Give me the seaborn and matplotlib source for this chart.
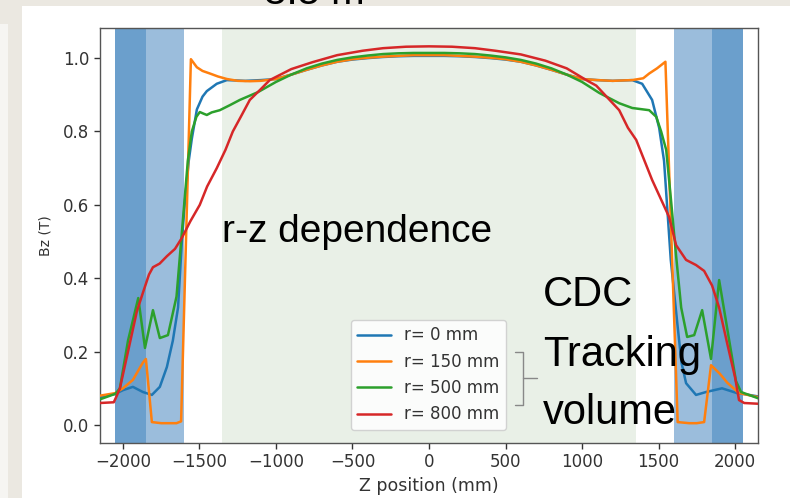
import numpy as np
import pandas as pd
import matplotlib
matplotlib.use("Agg")
import matplotlib.pyplot as plt
from matplotlib.patches import Rectangle
from matplotlib.lines import Line2D
import seaborn as sns

# ---------------- data ----------------
labels = ["r= 0 mm", "r= 150 mm", "r= 500 mm", "r= 800 mm"]

z_r0 = [-2150, -2050, -2000, -1935, -1870, -1811, -1759, -1713, -1674, -1640, -1615, -1595,
        -1570, -1550, -1517, -1480, -1452, -1387, -1321, -1200, -1100, -1000, -900, -800,
        -700, -600, -500, -400, -300, -200, -100, 0, 100, 200, 300, 400, 500, 600, 700, 800,
        900, 1000, 1100, 1200, 1328, 1393, 1458, 1504, 1536, 1580, 1622, 1650, 1680, 1745,
        1811, 1915, 2013, 2050, 2150]
b_r0 = [0.075, 0.085, 0.095, 0.104, 0.090, 0.082, 0.104, 0.158, 0.230, 0.320, 0.500, 0.610,
        0.720, 0.780, 0.860, 0.895, 0.910, 0.930, 0.940, 0.938, 0.940, 0.943, 0.955, 0.968,
        0.980, 0.990, 0.996, 1.000, 1.003, 1.005, 1.006, 1.006, 1.006, 1.005, 1.003, 1.000,
        0.996, 0.990, 0.980, 0.968, 0.955, 0.943, 0.940, 0.938, 0.940, 0.930, 0.886, 0.810,
        0.720, 0.450, 0.280, 0.170, 0.114, 0.082, 0.090, 0.100, 0.087, 0.085, 0.078]

z_r150 = [-2150, -2050, -2000, -1935, -1870, -1850, -1811, -1750, -1700, -1650, -1620, -1556,
          -1517, -1480, -1432, -1380, -1321, -1250, -1171, -1100, -1000, -900, -800, -700,
          -600, -500, -400, -300, -200, -100, 0, 100, 200, 300, 400, 500, 600, 700, 800, 900,
          1000, 1100, 1200, 1328, 1400, 1439, 1490, 1545, 1625, 1700, 1750, 1798, 1843, 1900,
          1950, 2026, 2050, 2150]
b_r150 = [0.080, 0.087, 0.100, 0.123, 0.170, 0.180, 0.008, 0.005, 0.005, 0.005, 0.010, 0.997,
          0.975, 0.965, 0.958, 0.950, 0.943, 0.938, 0.937, 0.938, 0.943, 0.955, 0.968, 0.980,
          0.990, 0.997, 1.001, 1.004, 1.006, 1.008, 1.008, 1.008, 1.006, 1.004, 1.001, 0.997,
          0.990, 0.980, 0.968, 0.955, 0.943, 0.940, 0.938, 0.940, 0.945, 0.958, 0.972, 0.990,
          0.008, 0.005, 0.005, 0.008, 0.163, 0.140, 0.115, 0.087, 0.085, 0.076]

z_r500 = [-2150, -2050, -2020, -1967, -1900, -1856, -1804, -1759, -1706, -1650, -1628, -1600,
          -1576, -1550, -1520, -1498, -1470, -1452, -1420, -1367, -1300, -1236, -1119, -1000,
          -900, -800, -700, -600, -500, -400, -300, -200, -100, 0, 100, 200, 300, 400, 500,
          600, 700, 800, 900, 1000, 1113, 1243, 1328, 1439, 1485, 1517, 1550, 1580, 1615,
          1648, 1687, 1733, 1785, 1843, 1896, 1950, 2006, 2039, 2150]
b_r500 = [0.070, 0.085, 0.100, 0.230, 0.346, 0.210, 0.313, 0.237, 0.245, 0.350, 0.460, 0.600,
          0.720, 0.800, 0.840, 0.853, 0.848, 0.845, 0.852, 0.858, 0.872, 0.886, 0.907, 0.935,
          0.955, 0.972, 0.985, 0.995, 1.002, 1.007, 1.011, 1.013, 1.014, 1.014, 1.014, 1.013,
          1.011, 1.007, 1.002, 0.995, 0.985, 0.972, 0.955, 0.935, 0.905, 0.877, 0.864, 0.858,
          0.840, 0.800, 0.750, 0.620, 0.460, 0.320, 0.240, 0.245, 0.313, 0.180, 0.395, 0.260,
          0.120, 0.090, 0.073]

z_r800 = [-2150, -2060, -2040, -2020, -1967, -1909, -1870, -1830, -1804, -1760, -1713, -1660,
          -1615, -1560, -1498, -1450, -1387, -1330, -1282, -1230, -1171, -1100, -1041, -900,
          -760, -600, -434, -300, -150, 0, 150, 300, 434, 600, 760, 900, 1028, 1093, 1243,
          1300, 1354, 1458, 1569, 1615, 1680, 1745, 1798, 1850, 1896, 1950, 2000, 2026, 2060,
          2150]
b_r800 = [0.060, 0.062, 0.080, 0.100, 0.200, 0.310, 0.360, 0.410, 0.430, 0.440, 0.460, 0.480,
          0.510, 0.555, 0.600, 0.650, 0.700, 0.750, 0.800, 0.840, 0.886, 0.915, 0.940, 0.970,
          0.989, 1.008, 1.020, 1.027, 1.031, 1.032, 1.031, 1.027, 1.020, 1.010, 0.993, 0.972,
          0.940, 0.925, 0.858, 0.810, 0.777, 0.668, 0.567, 0.490, 0.450, 0.436, 0.420, 0.380,
          0.320, 0.220, 0.130, 0.068, 0.060, 0.058]

dark_band = [(-2050, -1850), (1850, 2050)]
light_band = [(-1850, -1600), (1600, 1850)]
cdc_band = (-1350, 1350)

x_ticks = [-2000, -1500, -1000, -500, 0, 500, 1000, 1500, 2000]
y_ticks = [0.0, 0.2, 0.4, 0.6, 0.8, 1.0]

# ---------------- build long-form table ----------------
frames = []
for lab, zz, bb in zip(labels, [z_r0, z_r150, z_r500, z_r800], [b_r0, b_r150, b_r500, b_r800]):
    frames.append(pd.DataFrame({"z": zz, "Bz": bb, "series": lab}))
df = pd.concat(frames, ignore_index=True)

# ---------------- figure ----------------
sns.set_theme(style="ticks")
plt.rcParams["font.family"] = ["DejaVu Sans"]

W, H = 790, 498
fig = plt.figure(figsize=(W / 100, H / 100), dpi=100)
fig.patch.set_facecolor("white")

beige = "#ebe8e1"
def rect_px(x0, y0, x1, y1, color):
    fig.add_artist(Rectangle((x0 / W, 1 - y1 / H), (x1 - x0) / W, (y1 - y0) / H,
                             transform=fig.transFigure, facecolor=color, edgecolor="none", zorder=-10))

rect_px(0, 0, W, 6, beige)
rect_px(0, 6, 22, 24, beige)
rect_px(8, 24, 22, H, beige)
rect_px(0, 24, 8, H, "#f6f5f2")

ax = fig.add_axes([100 / W, 1 - 443 / H, (758 - 100) / W, (443 - 28) / H])
ax.set_facecolor("white")

for a, b in dark_band:
    ax.axvspan(a, b, color="#6b9fcc", lw=0, zorder=0)
for a, b in light_band:
    ax.axvspan(a, b, color="#9bbddc", lw=0, zorder=0)
ax.axvspan(cdc_band[0], cdc_band[1], color="#e9f0e7", lw=0, zorder=0)

palette = ["#1f77b4", "#ff7f0e", "#2ca02c", "#d62728"]
sns.lineplot(data=df, x="z", y="Bz", hue="series", palette=palette, sort=False,
             estimator=None, lw=1.8, ax=ax, zorder=3)

ax.set_xlim(-2150, 2150)
ax.set_ylim(-0.049, 1.082)
ax.set_xticks(x_ticks)
ax.set_yticks(y_ticks)
ax.set_yticklabels([f"{v:.1f}" for v in y_ticks])
ax.tick_params(axis="both", labelsize=12, colors="#333333", length=4, width=1)
ax.set_xlabel("Z position (mm)", fontsize=12.5, color="#333333", labelpad=4)
ax.set_ylabel("Bz (T)", fontsize=10, color="#333333", labelpad=8)
for s in ax.spines.values():
    s.set_visible(True)
    s.set_color("#555555")
    s.set_linewidth(1.0)

leg = ax.legend(loc="lower center", bbox_to_anchor=(0.499, 0.031), borderaxespad=0,
                fontsize=12, frameon=True, framealpha=0.85, edgecolor="#cccccc",
                handlelength=2.0, labelcolor="#333333")
for line in leg.get_lines():
    line.set_linewidth(1.8)

# bracket next to legend
def line_px(xs, ys):
    fig.add_artist(Line2D([x / W for x in xs], [1 - y / H for y in ys],
                          transform=fig.transFigure, color="#888888", lw=1.0, zorder=10))
line_px([515, 523, 523, 515], [352, 352, 405, 405])
line_px([523, 537], [378, 378])

# slide texts
tfont = ["Liberation Sans", "DejaVu Sans"]
fig.text(222 / W, 1 - 232 / H, "r-z dependence", fontsize=28, family=tfont,
         ha="left", va="center", color="black", zorder=20)
for txt, yc in [("CDC", 295), ("Tracking", 355), ("volume", 413)]:
    fig.text(543 / W, 1 - yc / H, txt, fontsize=30, family=tfont,
             ha="left", va="center", color="black", zorder=20)
fig.text(314 / W, 1 - 4 / H, "3.5 m", fontsize=29, family=tfont,
         ha="center", va="baseline", color="black", zorder=20)

fig.savefig("out.png", dpi=100)
